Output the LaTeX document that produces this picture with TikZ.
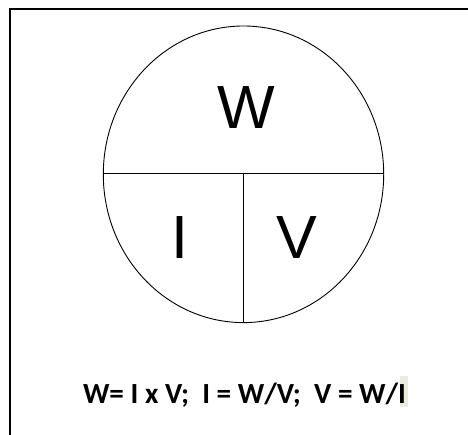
\documentclass[tikz,border=0pt]{standalone}
\usepackage{fontspec}
\setmainfont{Liberation Sans}
\newfontfamily\formulafont{Carlito}
\begin{document}
\begin{tikzpicture}[
    x=1pt, y=-1pt,
    frame/.style={line width=2pt},
    divider/.style={line width=0.9pt},
    letter/.style={inner sep=0pt, font=\fontsize{61}{61}\selectfont}
]
\useasboundingbox (0,0) rectangle (468,435);
\draw[frame] (10,435) -- (10,9) -- (468,9);
\coordinate (c) at (243.5,174.3);
\draw[divider] (c) ellipse [x radius=140.2, y radius=148.3];
\coordinate (left) at (103.3,173.3);
\coordinate (right) at (383.7,173.3);
\coordinate (mid) at (243.5,173.3);
\coordinate (bottom) at (243.5,322.6);
\draw[divider] (left) -- (right);
\draw[divider] (mid) -- (bottom);
\node[letter] (w) at (246,108) {W};
\node[letter] (i) at (180,238) {I};
\node[letter] (v) at (297,238) {V};
% formula line, last letter highlighted
\fill[fill={rgb,255:red,237;green,235;blue,224}] (400,376) rectangle (407.5,407);
\node[inner sep=0pt, anchor=base, font=\formulafont\bfseries\fontsize{29.2}{29.2}\selectfont] (formula) at (244.5,403)
    {W= I x V;\ \ I = W/V;\ \ V = W/I};
\end{tikzpicture}
\end{document}
